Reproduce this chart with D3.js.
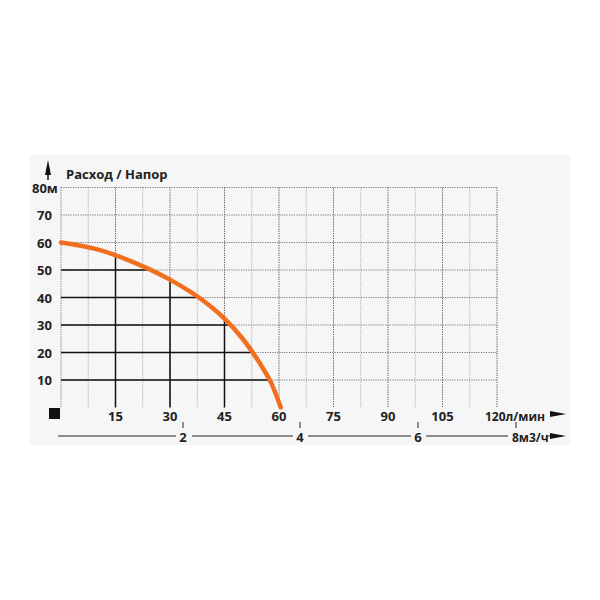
<!DOCTYPE html><html><head><meta charset="utf-8"><script src="https://cdn.jsdelivr.net/npm/d3@7"></script>
<style>body{margin:0;background:#fff}text{font-family:"Open Sans",sans-serif;font-weight:700;fill:#222}</style></head><body><svg id="c" width="600" height="600"></svg><script>
const flowTicks=[15,30,45,60,75,90,105,120];
const headTicks=[10,20,30,40,50,60,70,80];
const m3Ticks=[2,4,6,8];
const curveQ=[0,10,20,30,40,45,50,55,58,60.5];
const curveH=[60,57.5,52.8,46.5,38,32.3,25,15.5,8.5,0];
const opQ=[15,30,45];
const opH=[50,40,30,20,10];
const svg=d3.select("#c");
svg.append("rect").attr("x",30).attr("y",155).attr("width",540).attr("height",290).attr("fill","#f6f6f6");
const x=d3.scaleLinear().domain([0,120]).range([61,497]);
const y=d3.scaleLinear().domain([0,80]).range([407.5,187.5]);
const xm=d3.scaleLinear().domain([2,4,6,8]).range([183,300,418,516]);
const g=svg.append("g");
d3.range(7.5,121,7.5).forEach(v=>g.append("line").attr("x1",x(v)).attr("x2",x(v)).attr("y1",y(80)).attr("y2",y(0)).attr("stroke",v%15==0?"#555":"#aaa").attr("stroke-dasharray","1.2,1.2").attr("stroke-width",1));
headTicks.forEach(v=>g.append("line").attr("x1",x(0)).attr("x2",x(120)).attr("y1",y(v)).attr("y2",y(v)).attr("stroke","#777").attr("stroke-dasharray","1.2,1.2"));
g.append("line").attr("x1",x(0)).attr("x2",x(0)).attr("y1",y(80)).attr("y2",y(0)).attr("stroke","#777").attr("stroke-dasharray","1.2,1.2");
const hAt=d3.scaleLinear().domain(curveQ).range(curveH);
const qAt=d3.scaleLinear().domain(curveH.slice().reverse()).range(curveQ.slice().reverse());
opQ.forEach(q=>g.append("line").attr("x1",x(q)).attr("x2",x(q)).attr("y1",y(hAt(q))).attr("y2",y(0)).attr("stroke","#111").attr("stroke-width",1.5));
opH.forEach(h=>g.append("line").attr("x1",x(0)).attr("x2",x(qAt(h))).attr("y1",y(h)).attr("y2",y(h)).attr("stroke","#111").attr("stroke-width",1.5));
g.append("path").datum(curveQ.map((q,i)=>[q,curveH[i]])).attr("d",d3.line().x(d=>x(d[0])).y(d=>y(d[1])).curve(d3.curveMonotoneX)).attr("fill","none").attr("stroke","#f07020").attr("stroke-width",4.5).attr("stroke-linecap","round");
headTicks.forEach(v=>svg.append("text").attr("x",v==80?32:37).attr("y",y(v)+5).attr("font-size",13).text(v==80?"80м":v));
flowTicks.forEach(v=>svg.append("text").attr("x",x(v)).attr("y",421).attr("text-anchor",v==120?"start":"middle").attr("dx",v==120?-12:0).attr("font-size",v==120?12:13).text(v==120?"120л/мин":v));
svg.append("rect").attr("x",49).attr("y",408).attr("width",11).attr("height",11).attr("fill","#111");
svg.append("text").attr("x",66).attr("y",179).attr("font-size",13).text("Расход / Напор");
svg.append("path").attr("d","M48,175 L45,175 L48,160 L51,175 Z").attr("fill","#111");
svg.append("line").attr("x1",48).attr("x2",48).attr("y1",165).attr("y2",180).attr("stroke","#111").attr("stroke-width",1.5);
svg.append("path").attr("d","M550,411 L566,414 L550,417 Z").attr("fill","#111");
svg.append("path").attr("d","M550,433 L566,436 L550,439 Z").attr("fill","#111");
const segs=[[58,176],[192,293],[308,411],[426,508]];
segs.forEach(s=>svg.append("line").attr("x1",s[0]).attr("x2",s[1]).attr("y1",436).attr("y2",436).attr("stroke","#222").attr("stroke-width",1));
svg.append("line").attr("x1",546).attr("x2",552).attr("y1",436).attr("y2",436).attr("stroke","#222");
m3Ticks.forEach(v=>{svg.append("line").attr("x1",xm(v)).attr("x2",xm(v)).attr("y1",422).attr("y2",428).attr("stroke","#222");
svg.append("text").attr("x",xm(v)).attr("y",442).attr("text-anchor",v==8?"start":"middle").attr("dx",v==8?-4:0).attr("font-size",v==8?12:13).text(v==8?"8м3/ч":v);});
</script></body></html>
